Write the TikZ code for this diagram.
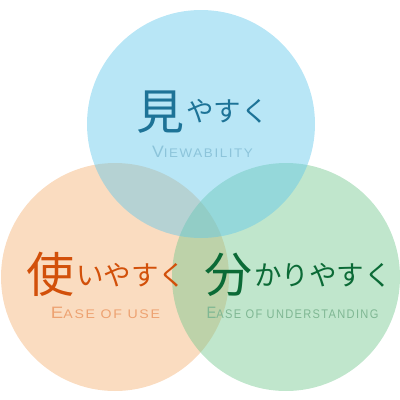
\documentclass[tikz,border=0pt]{standalone}
\usepackage{fontspec}
\setmainfont{Liberation Sans}
\newfontfamily\jpfont{Noto Sans CJK JP}
\newfontfamily\capfont[LetterSpace=12]{Liberation Sans}
\usepackage{xcolor}
\definecolor{vbBlue}{HTML}{61C7EB}
\definecolor{vbGreen}{HTML}{73C78E}
\definecolor{vbOrange}{HTML}{F4B173}
\definecolor{vbBlueText}{HTML}{1D7397}
\definecolor{vbGreenText}{HTML}{0B6A36}
\definecolor{vbOrangeText}{HTML}{D2500A}
\definecolor{vbBlueSub}{HTML}{8CC4DA}
\definecolor{vbGreenSub}{HTML}{7FB793}
\definecolor{vbOrangeSub}{HTML}{EDA271}
\usepackage{tikz}
\usetikzlibrary{positioning}

% fake small caps, stretched by #1
\newcommand{\fakesc}[3]{\scalebox{#1}[1]{{\capfont\fontsize{16.5}{16.5}\selectfont #2}{\capfont\fontsize{12.5}{12.5}\selectfont #3}}}

\begin{document}
\begin{tikzpicture}[
        x=1pt, y=-1pt,
        ring/.style={fill opacity=0.45},
        kanji/.style={inner sep=0pt, anchor=base west, font=\jpfont\fontsize{48}{48}\selectfont},
        kana/.style={inner sep=0pt, font=\jpfont\fontsize{27.5}{27.5}\selectfont},
        sub/.style={inner sep=0pt, anchor=base},
    ]
        \useasboundingbox (0,0) rectangle (400,400);

        % Circles
        \fill[ring, vbOrange] (115,277) circle [radius=114];
        \fill[ring, vbGreen]  (286,277) circle [radius=114];
        \fill[ring, vbBlue]   (201,124) circle [radius=114];

        % Viewability
        \node[kanji, text=vbBlueText] (mi) at (136,129) {見};
        \node[kana, text=vbBlueText, right=1.5pt of mi.base east, anchor=base west, yshift=7.5pt] (miKana) {やすく};
        \node[sub, text=vbBlueSub] (miSub) at (202.5,157) {\fakesc{1.07}{V}{IEWABILITY}};

        % Ease of use
        \node[kanji, text=vbOrangeText] (tsuka) at (26,292) {使};
        \node[kana, text=vbOrangeText, right=1.5pt of tsuka.base east, anchor=base west, yshift=7pt] (tsukaKana) {いやすく};
        \node[sub, text=vbOrangeSub] (tsukaSub) at (105.5,318) {\fakesc{1.13}{E}{ASE OF USE}};

        % Ease of understanding
        \node[kanji, text=vbGreenText] (wa) at (204,292) {分};
        \node[kana, text=vbGreenText, right=1.5pt of wa.base east, anchor=base west, yshift=7pt] (waKana) {かりやすく};
        \node[sub, text=vbGreenSub] (waSub) at (292.5,318) {\fakesc{0.886}{E}{ASE OF UNDERSTANDING}};

    \end{tikzpicture}
\end{document}
